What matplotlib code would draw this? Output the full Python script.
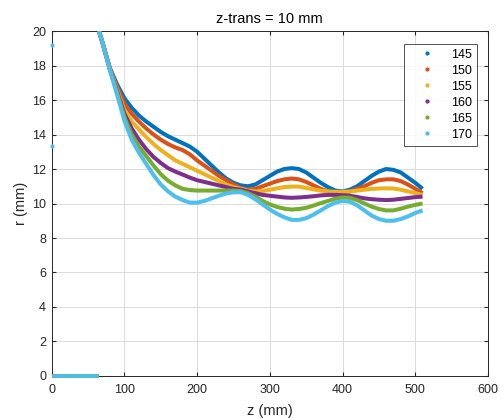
import numpy as np
import matplotlib
matplotlib.use('Agg')
from matplotlib import pyplot as plt

plt.rcParams['font.family'] = ['Liberation Sans', 'DejaVu Sans']

z = [65, 70, 80, 90, 100, 110, 120, 130, 140, 150, 160, 170, 180, 190, 200,
     210, 220, 230, 240, 250, 260, 270, 280, 290, 300, 310, 320, 330, 340,
     350, 360, 370, 380, 390, 400, 410, 420, 430, 440, 450, 460, 470, 480,
     490, 500, 510]

labels = ['145', '150', '155', '160', '165', '170']

r145 = [20, 19.3, 17.85, 16.9, 16.1, 15.55, 15.1, 14.75, 14.45, 14.15, 13.9,
        13.7, 13.5, 13.3, 13.0, 12.6, 12.2, 11.8, 11.45, 11.2, 11.05, 11.0,
        11.1, 11.35, 11.6, 11.85, 12.0, 12.05, 12.0, 11.8, 11.5, 11.2, 10.95,
        10.75, 10.7, 10.8, 11.0, 11.3, 11.6, 11.85, 12.0, 11.95, 11.8, 11.5,
        11.2, 10.85]
r150 = [20, 19.3, 17.82, 16.75, 15.8, 15.2, 14.75, 14.35, 14.0, 13.7, 13.45,
        13.25, 13.1, 12.85, 12.5, 12.2, 11.9, 11.6, 11.35, 11.1, 10.9, 10.8,
        10.85, 11.0, 11.15, 11.3, 11.4, 11.45, 11.4, 11.25, 11.05, 10.85, 10.7,
        10.65, 10.65, 10.7, 10.85, 11.0, 11.2, 11.35, 11.4, 11.4, 11.3, 11.1,
        10.85, 10.6]
r155 = [20, 19.3, 17.8, 16.6, 15.4, 14.75, 14.3, 13.85, 13.45, 13.1, 12.8,
        12.5, 12.3, 12.1, 11.9, 11.7, 11.5, 11.3, 11.1, 10.95, 10.85, 10.75,
        10.7, 10.72, 10.8, 10.88, 10.95, 10.98, 10.98, 10.9, 10.82, 10.75, 10.7,
        10.68, 10.68, 10.7, 10.75, 10.8, 10.85, 10.87, 10.88, 10.87, 10.8, 10.7,
        10.6, 10.5]
r160 = [20, 19.3, 17.78, 16.5, 15.2, 14.35, 13.7, 13.15, 12.7, 12.35, 12.05,
        11.85, 11.68, 11.5, 11.35, 11.25, 11.15, 11.05, 10.95, 10.85, 10.8,
        10.7, 10.6, 10.5, 10.45, 10.4, 10.35, 10.33, 10.35, 10.38, 10.42,
        10.47, 10.5, 10.5, 10.48, 10.45, 10.38, 10.3, 10.25, 10.22, 10.2,
        10.22, 10.27, 10.32, 10.37, 10.4]
r165 = [20, 19.3, 17.76, 16.4, 15.0, 14.0, 13.3, 12.75, 12.2, 11.7, 11.32,
        11.05, 10.85, 10.78, 10.75, 10.75, 10.75, 10.75, 10.75, 10.75, 10.72,
        10.6, 10.4, 10.15, 9.95, 9.8, 9.7, 9.65, 9.68, 9.75, 9.88, 10.02,
        10.15, 10.28, 10.35, 10.33, 10.2, 10.0, 9.82, 9.68, 9.6, 9.6, 9.7,
        9.82, 9.92, 10.0]
r170 = [20, 19.3, 17.75, 16.3, 14.8, 13.7, 12.95, 12.3, 11.65, 11.1, 10.7,
        10.4, 10.2, 10.05, 10.05, 10.15, 10.3, 10.45, 10.58, 10.65, 10.65,
        10.5, 10.25, 9.95, 9.65, 9.4, 9.2, 9.05, 9.05, 9.15, 9.35, 9.6, 9.85,
        10.05, 10.15, 10.1, 9.9, 9.6, 9.3, 9.1, 9.0, 9.0, 9.1, 9.25, 9.45,
        9.6]

# points sitting on the axis before the curves start
z_zero = [0, 65]
r_zero = [0, 0]
# stray points at z = 0
z_stray = [0, 0]
r_stray = [19.2, 13.35]

series = [r145, r150, r155, r160, r165, r170]
colors = ['#0072BD', '#D95319', '#EDB120', '#7E2F8E', '#77AC30', '#4DBEEE']

fig = plt.figure(figsize=(5.04, 4.18), dpi=100)
ax = fig.add_axes([0.1026, 0.1005, 0.8656, 0.8253])

for r, c in zip(series, colors):
    ax.plot(z_zero, r_zero, '-', color=c, lw=2.6, solid_capstyle='butt', clip_on=False, zorder=3)
    ax.plot(z, r, '-', color=c, lw=2.9, solid_capstyle='butt', zorder=3)
ax.plot(z_stray, r_stray, '.', color=colors[-1], ms=4, clip_on=False, zorder=4)

# legend entries drawn as dots like the original
for lab, c in zip(labels, colors):
    ax.plot([], [], '.', color=c, ms=4, label=lab)

ax.set_xlim(0, 600)
ax.set_ylim(0, 20)
ax.set_xticks(range(0, 601, 100))
ax.set_yticks(range(0, 21, 2))
ax.grid(True, color='#dcdcdc', lw=0.7)
ax.set_axisbelow(True)
ax.tick_params(direction='in', length=3, labelsize=9, colors='#262626',
               top=True, right=True)
ax.tick_params(axis='x', pad=6)
ax.tick_params(axis='y', pad=4)
for s in ax.spines.values():
    s.set_color('#262626')
    s.set_linewidth(0.7)

ax.set_title('z-trans = 10 mm', fontsize=10.5, color='#000000', pad=6)
ax.set_xlabel('z (mm)', fontsize=10.5, color='#262626', labelpad=5.5)
ax.set_ylabel('r (mm)', fontsize=10.5, color='#262626', labelpad=3)

leg = ax.legend(loc='upper left', bbox_to_anchor=(0.808, 0.963), fontsize=9,
                frameon=True, fancybox=False, edgecolor='#262626',
                handlelength=2.8, handletextpad=0.56, borderpad=0.4,
                borderaxespad=0, labelspacing=0.32)
leg.get_frame().set_linewidth(0.7)

fig.savefig('out.png', dpi=100)
